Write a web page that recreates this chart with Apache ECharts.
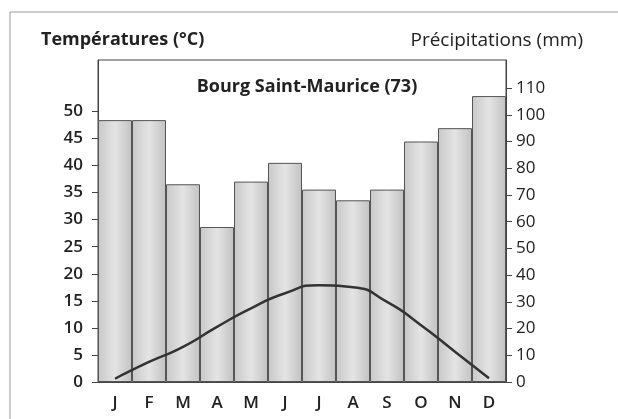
<!DOCTYPE html>
<html>
<head>
<meta charset="utf-8">
<script src="https://cdn.jsdelivr.net/npm/echarts@6/dist/echarts.min.js"></script>
<style>
  html, body { margin: 0; padding: 0; background: #fff; }
  #main { width: 618px; height: 419px; }
</style>
</head>
<body>
<div id="main"></div>
<script>
// mois
var months = ['J', 'F', 'M', 'A', 'M', 'J', 'J', 'A', 'S', 'O', 'N', 'D'];
// précipitations (mm)
var precip = [98, 98, 74, 58, 75, 82, 72, 68, 72, 90, 95, 107];
// températures (°C)
var temps = [0.6, 3.7, 6.5, 10.2, 13.6, 16.4, 17.9, 17.5, 14.8, 10.5, 5.6, 0.7];
// graduations
var tempTicks = [0, 5, 10, 15, 20, 25, 30, 35, 40, 45, 50];
var precipTicks = [0, 10, 20, 30, 40, 50, 60, 70, 80, 90, 100, 110];

var font = '"Open Sans", "DejaVu Sans", sans-serif';
var myChart = echarts.init(document.getElementById('main'));
myChart.setOption({
    animation: false,
    title: [
        { text: 'Températures (°C)', left: 36, top: 26,
          textStyle: { fontFamily: font, fontSize: 18, fontWeight: 'bold', color: '#222' } },
        { text: 'Précipitations (mm)', right: 30, top: 26,
          textStyle: { fontFamily: font, fontSize: 19, fontWeight: 'normal', color: '#222' } },
        { text: 'Bourg Saint-Maurice (73)', left: 302, top: 73, textAlign: 'center',
          textStyle: { fontFamily: font, fontSize: 18, fontWeight: 'bold', color: '#222' } }
    ],
    graphic: [
        { type: 'polyline', shape: { points: [[10, 419], [10, 12], [618, 12]] },
          style: { stroke: '#999', lineWidth: 1, fill: null } }
    ],
    grid: { left: 98, right: 112, top: 60, bottom: 37, show: true,
            borderColor: '#444', borderWidth: 1 },
    xAxis: {
        type: 'category',
        data: months,
        axisLine: { lineStyle: { color: '#444' } },
        axisTick: { alignWithLabel: true, length: 6, lineStyle: { color: '#444' } },
        axisLabel: { fontFamily: font, fontSize: 17, fontWeight: 600, color: '#222', margin: 13 }
    },
    yAxis: [
        {
            type: 'value', min: 0, max: 59.5, position: 'left',
            splitLine: { show: false },
            axisLine: { show: true, lineStyle: { color: '#444' } },
            axisTick: { show: true, length: 6, customValues: tempTicks, lineStyle: { color: '#444' } },
            axisLabel: { customValues: tempTicks, fontFamily: font, fontSize: 17, fontWeight: 600,
                         color: '#222', margin: 15 }
        },
        {
            type: 'value', min: 0, max: 120.5, position: 'right',
            splitLine: { show: false },
            axisLine: { show: true, lineStyle: { color: '#444' } },
            axisTick: { show: true, length: 6, customValues: precipTicks, lineStyle: { color: '#444' } },
            axisLabel: { customValues: precipTicks, fontFamily: font, fontSize: 17,
                         color: '#222', margin: 10 }
        }
    ],
    series: [
        {
            name: 'Précipitations',
            type: 'bar',
            yAxisIndex: 1,
            barCategoryGap: '0%',
            data: precip,
            itemStyle: {
                borderColor: '#555',
                borderWidth: 1,
                color: new echarts.graphic.LinearGradient(0, 0, 1, 0, [
                    { offset: 0, color: '#c8c8c8' },
                    { offset: 0.5, color: '#e4e4e4' },
                    { offset: 1, color: '#c2c2c2' }
                ])
            }
        },
        {
            name: 'Températures',
            type: 'line',
            yAxisIndex: 0,
            smooth: 0.6,
            symbol: 'none',
            data: temps,
            lineStyle: { color: '#333', width: 2.5 },
            z: 5
        }
    ]
});
</script>
</body>
</html>
